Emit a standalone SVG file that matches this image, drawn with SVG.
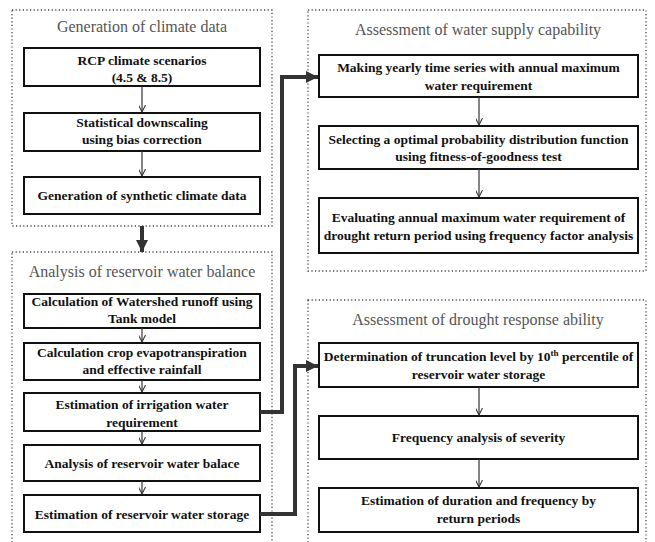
<svg xmlns="http://www.w3.org/2000/svg" width="655" height="542" viewBox="0 0 655 542">
<defs>
<style>
.grp{fill:none;stroke:#444;stroke-width:1.3;stroke-dasharray:1.2 2.4}
.box{fill:#fff;stroke:#111;stroke-width:2}
.t{font-family:'Liberation Serif','Times New Roman','DejaVu Serif',serif;font-weight:bold;font-size:13.5px;fill:#111;text-anchor:middle}
.title{font-family:'Liberation Serif','Times New Roman','DejaVu Serif',serif;font-size:16px;fill:#555;text-anchor:middle}
.thin{fill:none;stroke:#333;stroke-width:1.2;marker-end:url(#sa)}
.thick{fill:none;stroke:#333;stroke-width:4;marker-end:url(#ba)}
</style>
<marker id="sa" viewBox="0 0 10 10" refX="10" refY="5" markerWidth="7" markerHeight="7" markerUnits="userSpaceOnUse" orient="auto">
<path d="M0,0 L10,5 L0,10" fill="none" stroke="#333" stroke-width="1.5"/>
</marker>
<marker id="ba" viewBox="0 0 12 12" refX="12" refY="6" markerWidth="12" markerHeight="12" markerUnits="userSpaceOnUse" orient="auto">
<path d="M0,0 L12,6 L0,12 Z" fill="#333"/>
</marker>
</defs>
<rect width="655" height="542" fill="#fff"/>

<g id="group-climate">
<rect class="grp" x="12" y="10" width="260" height="216"/>
<text class="title" x="142" y="32">Generation of climate data</text>
</g>
<g id="group-balance">
<rect class="grp" x="12" y="252" width="260" height="310"/>
<text class="title" x="142" y="277">Analysis of reservoir water balance</text>
</g>
<g id="group-supply">
<rect class="grp" x="308" y="10" width="338" height="261"/>
<text class="title" x="478" y="35">Assessment of water supply capability</text>
</g>
<g id="group-drought">
<rect class="grp" x="308" y="300" width="338" height="262"/>
<text class="title" x="478" y="325">Assessment of drought response ability</text>
</g>

<g id="n-rcp"><rect class="box" x="24" y="48" width="236" height="38"/>
<text class="t" x="142" y="65">RCP climate scenarios</text><text class="t" x="142" y="82">(4.5 &amp; 8.5)</text></g>
<g id="n-downscale"><rect class="box" x="24" y="113" width="236" height="38"/>
<text class="t" x="142" y="127">Statistical downscaling</text><text class="t" x="142" y="144">using bias correction</text></g>
<g id="n-synthetic"><rect class="box" x="24" y="177" width="236" height="37"/>
<text class="t" x="142" y="200">Generation of synthetic climate data</text></g>

<g id="n-runoff"><rect class="box" x="24" y="294" width="236" height="34"/>
<text class="t" x="142" y="306">Calculation of Watershed runoff using</text><text class="t" x="142" y="323">Tank model</text></g>
<g id="n-crop"><rect class="box" x="24" y="343" width="236" height="37"/>
<text class="t" x="142" y="357">Calculation crop evapotranspiration</text><text class="t" x="142" y="374">and effective rainfall</text></g>
<g id="n-irrigation"><rect class="box" x="24" y="393" width="236" height="38"/>
<text class="t" x="142" y="409">Estimation of irrigation water</text><text class="t" x="142" y="427">requirement</text></g>
<g id="n-balance"><rect class="box" x="24" y="445" width="236" height="36"/>
<text class="t" x="142" y="468">Analysis of reservoir water balace</text></g>
<g id="n-storage"><rect class="box" x="24" y="495" width="236" height="37"/>
<text class="t" x="142" y="519">Estimation of reservoir water storage</text></g>

<g id="n-yearly"><rect class="box" x="319" y="55" width="319" height="42"/>
<text class="t" x="478.5" y="72">Making yearly time series with annual maximum</text><text class="t" x="478.5" y="90">water requirement</text></g>
<g id="n-pdf"><rect class="box" x="319" y="126" width="319" height="43"/>
<text class="t" x="478.5" y="144">Selecting a optimal probability distribution function</text><text class="t" x="478.5" y="161">using fitness-of-goodness test</text></g>
<g id="n-evaluate"><rect class="box" x="319" y="198" width="319" height="55"/>
<text class="t" x="478.5" y="222">Evaluating annual maximum water requirement of</text><text class="t" x="478.5" y="240">drought return period using frequency factor analysis</text></g>

<g id="n-truncation"><rect class="box" x="319" y="343" width="319" height="44"/>
<text class="t" x="478.5" y="361">Determination of truncation level by 10<tspan font-size="9" dy="-5">th</tspan><tspan dy="5"> percentile of</tspan></text><text class="t" x="478.5" y="379">reservoir water storage</text></g>
<g id="n-severity"><rect class="box" x="319" y="416" width="319" height="43"/>
<text class="t" x="478.5" y="442">Frequency analysis of severity</text></g>
<g id="n-duration"><rect class="box" x="319" y="488" width="319" height="44"/>
<text class="t" x="478.5" y="505">Estimation of duration and frequency by</text><text class="t" x="478.5" y="523">return periods</text></g>

<g id="connectors">
<path class="thin" d="M142 86 V112"/>
<path class="thin" d="M142 151 V176"/>
<path class="thin" d="M142 328 V342"/>
<path class="thin" d="M142 380 V392"/>
<path class="thin" d="M142 431 V444"/>
<path class="thin" d="M142 481 V494"/>
<path class="thin" d="M479 97 V125"/>
<path class="thin" d="M479 169 V197"/>
<path class="thin" d="M479 387 V415"/>
<path class="thin" d="M479 459 V487"/>
<path class="thick" d="M142 226 V252"/>
<path class="thick" d="M260 412 H282 V77 H318"/>
<path class="thick" d="M260 514 H295 V366 H318"/>
</g>
</svg>
